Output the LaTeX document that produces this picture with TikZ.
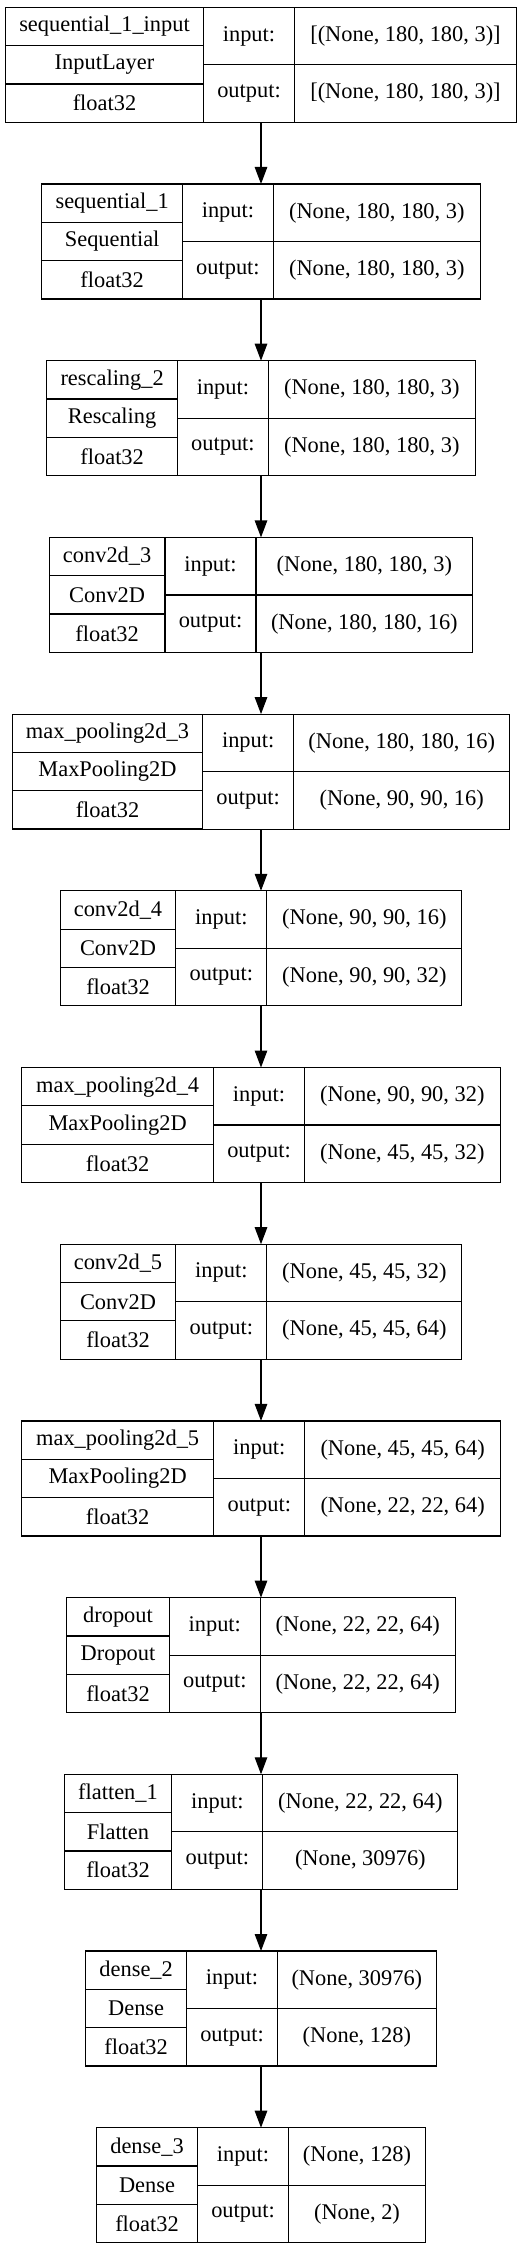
\documentclass[tikz,border=0pt]{standalone}
\usepackage{fontspec}
\setmainfont{Liberation Serif}
\usetikzlibrary{positioning,arrows.meta}

\tikzset{
  cell/.style={draw, line width=1.2pt, inner sep=0pt, outer sep=0pt,
    font=\fontsize{22.4}{26}\selectfont},
  flow/.style={-{Triangle[length=17pt,width=12.5pt]}, line width=1.2pt},
}

% one layer: id, top, name, class, input, output, left width, right width
\newcommand{\kerasnode}[8]{
  \node[cell, minimum width={#7+91+#8}, minimum height=115, anchor=north] (#1) at (261,#2) {};
  \node[cell, minimum width=#7, minimum height=38.33, anchor=north west] (#1-name) at (#1.north west) {#3};
  \node[cell, minimum width=#7, minimum height=38.33, below=0pt of #1-name] (#1-class) {#4};
  \node[cell, minimum width=#7, minimum height=38.33, below=0pt of #1-class] (#1-type) {float32};
  \node[cell, minimum width=91, minimum height=57.5, anchor=north west] (#1-inlab) at (#1-name.north east) {input:};
  \node[cell, minimum width=91, minimum height=57.5, below=0pt of #1-inlab] (#1-outlab) {output:};
  \node[cell, minimum width=#8, minimum height=57.5, anchor=north west] (#1-inval) at (#1-inlab.north east) {#5};
  \node[cell, minimum width=#8, minimum height=57.5, below=0pt of #1-inval] (#1-outval) {#6};
}

\begin{document}
\begin{tikzpicture}[x=1pt,y=-1pt]
  \useasboundingbox (0,0) rectangle (527,2250);

  \kerasnode{inp}{7.3}{sequential\_1\_input}{InputLayer}{[(None, 180, 180, 3)]}{[(None, 180, 180, 3)]}{198}{222}
  \kerasnode{seq}{184.0}{sequential\_1}{Sequential}{(None, 180, 180, 3)}{(None, 180, 180, 3)}{140.6}{206.7}
  \kerasnode{resc}{360.7}{rescaling\_2}{Rescaling}{(None, 180, 180, 3)}{(None, 180, 180, 3)}{130.6}{206.7}
  \kerasnode{convA}{537.4}{conv2d\_3}{Conv2D}{(None, 180, 180, 3)}{(None, 180, 180, 16)}{115.7}{216.7}
  \kerasnode{poolA}{714.1}{max\_pooling2d\_3}{MaxPooling2D}{(None, 180, 180, 16)}{(None, 90, 90, 16)}{190.4}{216}
  \kerasnode{convB}{890.8}{conv2d\_4}{Conv2D}{(None, 90, 90, 16)}{(None, 90, 90, 32)}{115.7}{195}
  \kerasnode{poolB}{1067.5}{max\_pooling2d\_4}{MaxPooling2D}{(None, 90, 90, 32)}{(None, 45, 45, 32)}{191.7}{195.7}
  \kerasnode{convC}{1244.2}{conv2d\_5}{Conv2D}{(None, 45, 45, 32)}{(None, 45, 45, 64)}{115.7}{195}
  \kerasnode{poolC}{1420.9}{max\_pooling2d\_5}{MaxPooling2D}{(None, 45, 45, 64)}{(None, 22, 22, 64)}{192.3}{195.7}
  \kerasnode{drop}{1597.6}{dropout}{Dropout}{(None, 22, 22, 64)}{(None, 22, 22, 64)}{102.6}{195}
  \kerasnode{flat}{1774.3}{flatten\_1}{Flatten}{(None, 22, 22, 64)}{(None, 30976)}{107.7}{195}
  \kerasnode{denseA}{1951.0}{dense\_2}{Dense}{(None, 30976)}{(None, 128)}{100.7}{158.7}
  \kerasnode{denseB}{2127.7}{dense\_3}{Dense}{(None, 128)}{(None, 2)}{101}{137}

  % connectors
  \foreach \a/\b in {inp/seq, seq/resc, resc/convA, convA/poolA, poolA/convB,
      convB/poolB, poolB/convC, convC/poolC, poolC/drop, drop/flat,
      flat/denseA, denseA/denseB}
    \draw[flow] (\a.south) -- (\b.north);
\end{tikzpicture}
\end{document}
